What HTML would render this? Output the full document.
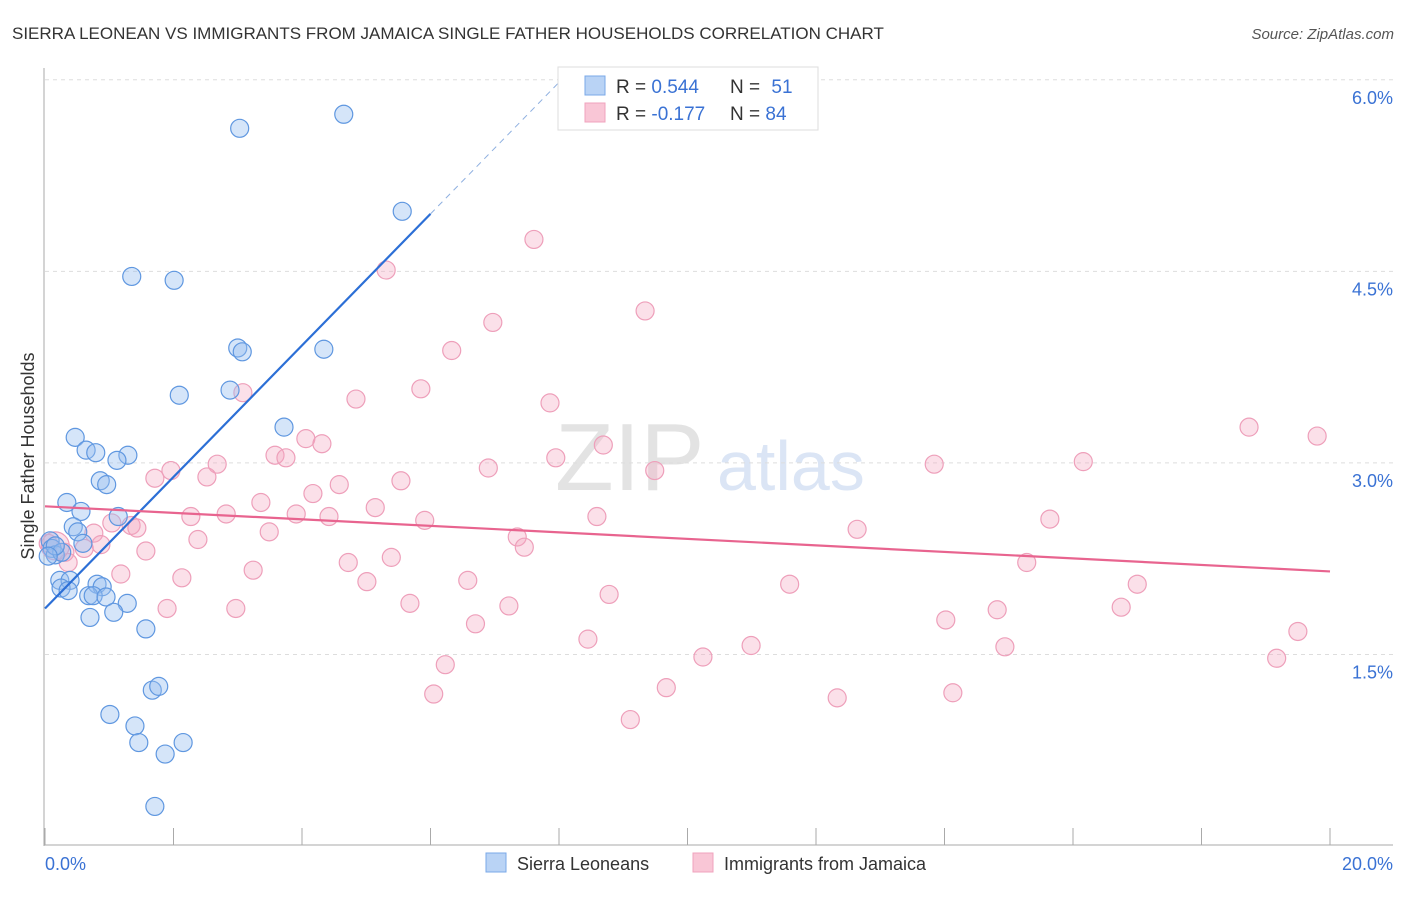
<!DOCTYPE html>
<html><head><meta charset="utf-8"><style>
body{margin:0;background:#fff;font-family:"Liberation Sans",sans-serif}
svg text{font-family:"Liberation Sans",sans-serif}
</style></head><body>
<svg id="c" width="1406" height="892">
<text x="12" y="39" font-size="17" fill="#333">SIERRA LEONEAN VS IMMIGRANTS FROM JAMAICA SINGLE FATHER HOUSEHOLDS CORRELATION CHART</text>
<text x="1394" y="39" font-size="15" fill="#555" text-anchor="end" font-style="italic">Source: ZipAtlas.com</text>
<text x="555" y="490" font-size="96" fill="#e3e3e3" font-family="Liberation Serif">ZIP</text>
<text x="717" y="490" font-size="70" fill="#dbe5f5">atlas</text>
<text x="34" y="456" font-size="18" fill="#333" text-anchor="middle" transform="rotate(-90 34 456)">Single Father Households</text>
<g id="grid"></g><g id="axes"></g><g id="pts"></g><g id="trend"></g>
<g>
<rect x="558" y="67" width="260" height="63" fill="#fff" stroke="#ddd"/>
<rect x="585" y="76" width="20" height="19" fill="#b9d3f5" stroke="#7aa8e8"/>
<rect x="585" y="103" width="20" height="19" fill="#f9c6d6" stroke="#f0a3bd"/>
<text x="616" y="93" font-size="19" fill="#333">R = <tspan fill="#3a72d4">0.544</tspan></text>
<text x="730" y="93" font-size="19" fill="#333">N = <tspan fill="#3a72d4" dx="6">51</tspan></text>
<text x="616" y="120" font-size="19" fill="#333">R = <tspan fill="#3a72d4">-0.177</tspan></text>
<text x="730" y="120" font-size="19" fill="#333">N = <tspan fill="#3a72d4">84</tspan></text>
</g>
<g>
<rect x="486" y="853" width="20" height="19" fill="#b9d3f5" stroke="#7aa8e8"/>
<text x="517" y="870" font-size="18" fill="#333">Sierra Leoneans</text>
<rect x="693" y="853" width="20" height="19" fill="#f9c6d6" stroke="#f0a3bd"/>
<text x="724" y="870" font-size="18" fill="#333">Immigrants from Jamaica</text>
</g>
</svg>
<script>
const yTicks=[1.5,3.0,4.5,6.0];
const xTickCount=[0,1,2,3,4,5,6,7,8,9,10];
const blueX=[3.03,4.65,5.56,1.35,2.01,3.00,3.07,4.34,2.09,2.88,3.72,0.47,0.64,0.79,1.29,1.12,0.86,0.96,0.34,0.56,1.14,0.44,0.51,0.59,0.08,0.11,0.16,0.26,0.23,0.39,0.25,0.36,0.81,0.89,0.68,0.75,0.95,1.28,0.70,1.07,1.57,1.67,1.77,1.01,1.40,1.46,2.15,1.87,1.71,0.16,0.05];
const blueY=[5.62,5.73,4.97,4.46,4.43,3.90,3.87,3.89,3.53,3.57,3.28,3.20,3.10,3.08,3.06,3.02,2.86,2.83,2.69,2.62,2.58,2.50,2.46,2.37,2.39,2.33,2.28,2.30,2.08,2.08,2.02,2.00,2.05,2.03,1.96,1.96,1.95,1.90,1.79,1.83,1.70,1.22,1.25,1.03,0.94,0.81,0.81,0.72,0.31,2.35,2.27];
const pinkX=[7.61,5.31,9.34,6.97,6.33,5.85,4.84,7.86,3.08,18.74,19.80,4.06,4.31,8.69,3.58,3.75,7.95,16.16,13.84,2.68,6.90,9.49,1.96,1.71,2.52,4.58,5.54,4.17,3.36,5.14,2.82,3.91,2.27,4.42,8.59,15.64,5.91,1.04,1.34,1.43,12.64,3.49,0.76,2.38,7.35,0.87,7.46,0.61,1.57,0.31,0.05,0.36,5.39,4.72,3.24,15.28,1.18,2.13,5.01,6.58,11.59,17.00,8.78,5.68,7.22,1.90,2.97,16.75,14.82,14.02,6.70,19.50,8.45,10.99,14.94,10.24,19.17,6.23,6.05,9.67,14.13,12.33,9.11,0.16];
const pinkY=[4.75,4.51,4.19,4.10,3.88,3.58,3.50,3.47,3.55,3.28,3.21,3.19,3.15,3.14,3.06,3.04,3.04,3.01,2.99,2.99,2.96,2.94,2.94,2.88,2.89,2.83,2.86,2.76,2.69,2.65,2.60,2.60,2.58,2.58,2.58,2.56,2.55,2.53,2.51,2.49,2.48,2.46,2.45,2.40,2.42,2.36,2.34,2.33,2.31,2.30,2.37,2.22,2.26,2.22,2.16,2.22,2.13,2.10,2.07,2.08,2.05,2.05,1.97,1.90,1.88,1.86,1.86,1.87,1.85,1.77,1.74,1.68,1.62,1.57,1.56,1.48,1.47,1.42,1.19,1.24,1.20,1.16,0.99,2.35];
const blueTrend=[1.86,0.515];
const pinkTrend=[2.66,-0.0255];
const NS="http://www.w3.org/2000/svg";
const X=v=>45+v*64.25, Y=v=>846-v*127.7;
function mk(t,a,p){const e=document.createElementNS(NS,t);for(const k in a)e.setAttribute(k,a[k]);p.appendChild(e);return e;}
const grid=document.getElementById('grid'),axes=document.getElementById('axes');
yTicks.forEach(t=>{
 const l=mk('line',{x1:45,x2:1393,y1:Y(t),y2:Y(t),stroke:'#ddd','stroke-dasharray':'4,4'},grid);
 
 
 const tx=mk('text',{x:1393,y:Y(t)+24,'font-size':18,fill:'#3a72d4','text-anchor':'end'},grid);
 tx.textContent=t.toFixed(1)+'%';
 
 
});
mk('line',{x1:44,x2:44,y1:68,y2:846,stroke:'#aaa'},axes);
mk('line',{x1:44,x2:1393,y1:845,y2:845,stroke:'#aaa'},axes);
xTickCount.forEach(i=>{
 const l=mk('line',{x1:X(i*2),x2:X(i*2),y1:828,y2:845,stroke:'#aaa'},axes);
 
 
});
[[0,'0.0%','start',45],[20,'20.0%','end',1393]].forEach(d=>{
 const t=mk('text',{x:d[3],y:870,'font-size':18,fill:'#3a72d4','text-anchor':d[2]},axes);
 t.textContent=d[1];
 
 
});
const pts=document.getElementById('pts');
pinkX.forEach((x,i)=>{
 const c=mk('circle',{cx:X(x),cy:Y(pinkY[i]),r:i==pinkX.length-1?14:9,fill:'rgba(244,165,192,0.35)',stroke:'#ee9fba','stroke-width':1.2},pts);
 
 
});
blueX.forEach((x,i)=>{
 const c=mk('circle',{cx:X(x),cy:Y(blueY[i]),r:9,fill:'rgba(150,190,240,0.4)',stroke:'#5f97e0','stroke-width':1.2},pts);
 
 
});
const tr=document.getElementById('trend');
const bl=mk('line',{x1:X(0),y1:Y(blueTrend[0]),x2:X(6),y2:Y(blueTrend[0]+6*blueTrend[1]),stroke:'#2c6fd6','stroke-width':2.2},tr);


const bd=mk('line',{x1:X(6),y1:Y(blueTrend[0]+6*blueTrend[1]),x2:X(8),y2:Y(blueTrend[0]+8*blueTrend[1]),stroke:'#8fb0e0','stroke-width':1,'stroke-dasharray':'6,5'},tr);


const pl=mk('line',{x1:X(0),y1:Y(pinkTrend[0]),x2:X(20),y2:Y(pinkTrend[0]+20*pinkTrend[1]),stroke:'#e8648f','stroke-width':2.2},tr);


</script>
</body></html>
